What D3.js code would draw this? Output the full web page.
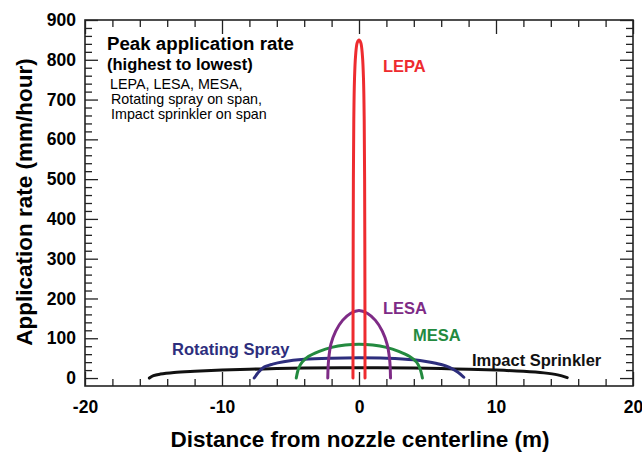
<!DOCTYPE html>
<html>
<head>
<meta charset="utf-8">
<script src="https://cdn.jsdelivr.net/npm/d3@7"></script>
<style>
  body { margin: 0; background: #fff; }
  svg text { font-family: "Liberation Sans", Arial, Helvetica, sans-serif; }
</style>
</head>
<body>
<svg id="chart" width="642" height="453"></svg>
<script>
// x = distance from nozzle centerline (m), y = application rate (mm/hour)
var lepa = [
  [-0.44, 0], [-0.43, 250], [-0.41, 500], [-0.38, 650], [-0.33, 750],
  [-0.25, 810], [-0.13, 843], [0, 850], [0.13, 843], [0.25, 810],
  [0.33, 750], [0.38, 650], [0.41, 500], [0.43, 250], [0.44, 0]
];
var lesa = [
  [-2.28, 0], [-2.22, 45], [-2.05, 85], [-1.7, 118], [-1.2, 145],
  [-0.6, 163], [0, 170], [0.6, 163], [1.2, 145], [1.7, 118],
  [2.05, 85], [2.24, 45], [2.3, 0]
];
var mesa = [
  [-4.58, 0], [-4.4, 25], [-4.15, 40], [-3.7, 54], [-2.9, 67],
  [-2.0, 77], [-1.0, 83], [0, 85], [1.0, 83], [2.0, 77],
  [2.9, 67], [3.7, 54], [4.2, 40], [4.45, 24], [4.63, 0]
];
var rotatingSpray = [
  [-7.65, 0], [-7.4, 12], [-7.0, 26], [-6.3, 35], [-5.5, 41],
  [-4.0, 47], [-2.0, 50], [0, 51], [2.0, 50], [4.0, 46],
  [5.0, 41], [6.0, 34], [6.6, 27], [7.2, 15], [7.65, 2]
];
var impactSprinkler = [
  [-15.3, 0], [-15.0, 6], [-14.5, 10], [-13.5, 14], [-12.0, 17],
  [-10.0, 20], [-7.0, 23], [-4.0, 25], [0, 26], [4.0, 25],
  [7.0, 23], [10.0, 20], [12.0, 17], [13.5, 13], [14.5, 8], [15.2, 1]
];

var seriesNames = ["Impact Sprinkler", "Rotating Spray", "MESA", "LESA", "LEPA"];
var seriesData = [impactSprinkler, rotatingSpray, mesa, lesa, lepa];
var seriesColours = ["#111111", "#2d2e7d", "#238a3f", "#7e2b86", "#ee2b2f"];

var xTickLabels = [-20, -10, 0, 10, 20];
var yTickLabels = [0, 100, 200, 300, 400, 500, 600, 700, 800, 900];

var noteLines = [
  "Peak application rate",
  "(highest to lowest)",
  "LEPA, LESA, MESA,",
  "Rotating spray on span,",
  "Impact sprinkler on span"
];

var vis = { left: 85, right: 633, top: 20, bottom: 386 };

/*
  NAME: drawChart
  DESCRIPTION: builds scales, frame, axes, curves and labels
*/
function drawChart() {
  var svg = d3.select("#chart");

  var x = d3.scaleLinear().domain([-20, 20]).range([vis.left, vis.right]);
  var y = d3.scaleLinear().domain([-20, 900]).range([vis.bottom, vis.top]);

  // minor tick positions (every 2 m, every 20 mm/hour)
  var xMinor = d3.range(-20, 20.001, 2).filter(function (d) { return d % 10 != 0; });
  var yMinor = d3.range(0, 900.001, 20).filter(function (d) { return d % 100 != 0; });

  var fmt = function (d) { return d; };

  // bottom axis with labels
  svg.append("g")
    .attr("class", "axis x-major")
    .attr("transform", "translate(0," + vis.bottom + ")")
    .call(d3.axisBottom(x).tickValues(xTickLabels).tickSize(-14).tickPadding(15).tickFormat(fmt));
  svg.append("g")
    .attr("class", "axis x-minor")
    .attr("transform", "translate(0," + vis.bottom + ")")
    .call(d3.axisBottom(x).tickValues(xMinor).tickSize(-7).tickFormat(""));

  // top axis, ticks only
  svg.append("g")
    .attr("class", "axis")
    .attr("transform", "translate(0," + vis.top + ")")
    .call(d3.axisTop(x).tickValues(xTickLabels).tickSize(-14).tickFormat(""));
  svg.append("g")
    .attr("class", "axis")
    .attr("transform", "translate(0," + vis.top + ")")
    .call(d3.axisTop(x).tickValues(xMinor).tickSize(-7).tickFormat(""));

  // left axis with labels
  svg.append("g")
    .attr("class", "axis y-major")
    .attr("transform", "translate(" + vis.left + ",0)")
    .call(d3.axisLeft(y).tickValues(yTickLabels).tickSize(-13).tickPadding(9).tickFormat(fmt));
  svg.append("g")
    .attr("class", "axis")
    .attr("transform", "translate(" + vis.left + ",0)")
    .call(d3.axisLeft(y).tickValues(yMinor).tickSize(-7).tickFormat(""));

  // right axis, ticks only
  svg.append("g")
    .attr("class", "axis")
    .attr("transform", "translate(" + vis.right + ",0)")
    .call(d3.axisRight(y).tickValues(yTickLabels).tickSize(-13).tickFormat(""));
  svg.append("g")
    .attr("class", "axis")
    .attr("transform", "translate(" + vis.right + ",0)")
    .call(d3.axisRight(y).tickValues(yMinor).tickSize(-7).tickFormat(""));

  svg.selectAll(".axis .domain").remove();
  svg.selectAll(".axis .tick line").attr("stroke", "#222").attr("stroke-width", 1.3);
  svg.selectAll(".axis text")
    .attr("fill", "#000")
    .style("font-size", "17.5px")
    .style("font-weight", "bold");

  // plot frame
  svg.append("rect")
    .attr("x", vis.left)
    .attr("y", vis.top)
    .attr("width", vis.right - vis.left)
    .attr("height", vis.bottom - vis.top)
    .attr("fill", "none")
    .attr("stroke", "#222")
    .attr("stroke-width", 1.6);

  // curves
  var line = d3.line()
    .x(function (d) { return x(d[0]); })
    .y(function (d) { return y(d[1]); })
    .curve(d3.curveCatmullRom.alpha(0.5));

  svg.append("g")
    .selectAll("path")
    .data(seriesData)
    .join("path")
    .attr("d", line)
    .attr("fill", "none")
    .attr("stroke", function (d, i) { return seriesColours[i]; })
    .attr("stroke-width", 3)
    .attr("stroke-linecap", "round");

  // curve labels
  var labelPos = [[472, 366], [172, 355], [413, 341], [383, 314], [383, 72]];
  svg.append("g")
    .selectAll("text")
    .data(seriesNames)
    .join("text")
    .attr("x", function (d, i) { return labelPos[i][0]; })
    .attr("y", function (d, i) { return labelPos[i][1]; })
    .attr("fill", function (d, i) { return seriesColours[i]; })
    .style("font-size", "16.5px")
    .style("font-weight", "bold")
    .text(function (d) { return d; });

  // note block, top left
  var noteStyle = [
    { x: 107, y: 50, size: 18.7, bold: true },
    { x: 107, y: 70, size: 16.5, bold: true },
    { x: 110, y: 89, size: 14.3, bold: false },
    { x: 111, y: 104, size: 14.3, bold: false },
    { x: 111, y: 119, size: 14.3, bold: false }
  ];
  svg.append("g")
    .selectAll("text")
    .data(noteLines)
    .join("text")
    .attr("x", function (d, i) { return noteStyle[i].x; })
    .attr("y", function (d, i) { return noteStyle[i].y; })
    .style("font-size", function (d, i) { return noteStyle[i].size + "px"; })
    .style("font-weight", function (d, i) { return noteStyle[i].bold ? "bold" : "normal"; })
    .text(function (d) { return d; });

  // axis titles
  svg.append("text")
    .attr("x", 360)
    .attr("y", 447)
    .attr("text-anchor", "middle")
    .style("font-size", "22.5px")
    .style("font-weight", "bold")
    .text("Distance from nozzle centerline (m)");

  svg.append("text")
    .attr("transform", "translate(32,202) rotate(-90)")
    .attr("text-anchor", "middle")
    .style("font-size", "22.5px")
    .style("font-weight", "bold")
    .text("Application rate (mm/hour)");

  return;
} // end function drawChart

drawChart();
</script>
</body>
</html>
